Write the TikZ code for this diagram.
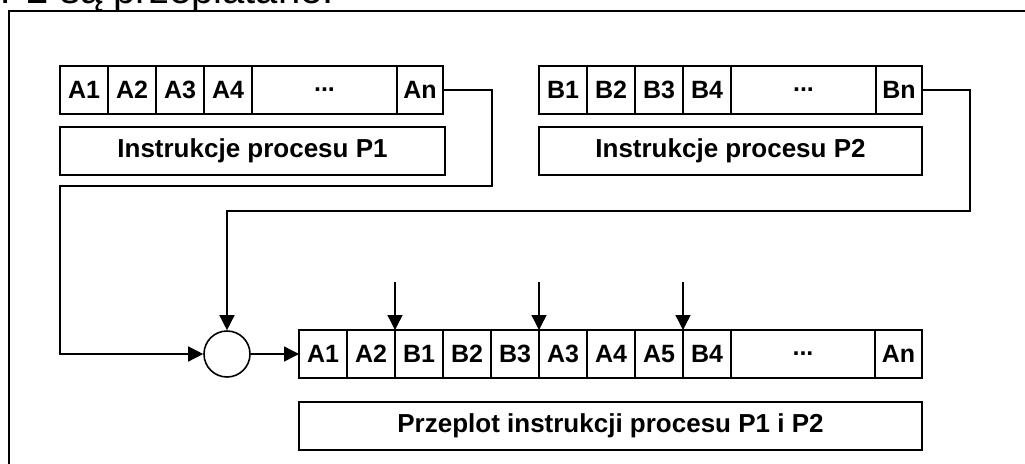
\documentclass[tikz,border=0pt]{standalone}
\usepackage{fontspec}
\setmainfont{Liberation Sans}
\usetikzlibrary{positioning,arrows.meta}

\tikzset{
  cell/.style={draw,line width=1.7pt,minimum width=48pt,minimum height=48pt,
    inner sep=0pt,outer sep=0pt,font=\fontsize{25}{29}\selectfont\bfseries},
  dotcell/.style={cell,minimum width=145pt},
  caption/.style={draw,line width=1.7pt,minimum height=48pt,inner sep=0pt,
    outer sep=0pt,font=\fontsize{26}{30}\selectfont\bfseries},
  wire/.style={line width=1.4pt},
  feed/.style={wire,-{Triangle[length=15pt,width=15pt]}}
}

\begin{document}
\begin{tikzpicture}[x=1pt,y=-1pt]
\useasboundingbox (0,0) rectangle (1025,463);
\node[anchor=base west,inner sep=0pt,font=\fontsize{40}{48}\selectfont] (intro) at (0,3) {P2 są przeplatane.};
\draw[line width=2.6pt] (9,480) -- (9,11) -- (1040,11);

% instrukcje P1
\node[cell,anchor=north west] (a1) at (60,66) {A1};
\node[cell,right=0pt of a1] (a2) {A2};
\node[cell,right=0pt of a2] (a3) {A3};
\node[cell,right=0pt of a3] (a4) {A4};
\node[dotcell,right=0pt of a4] (ad) {...};
\node[cell,minimum width=46pt,right=0pt of ad] (an) {An};
\node[caption,anchor=north west,minimum width=385pt] (p1) at (60,127) {Instrukcje procesu P1};

% instrukcje P2
\node[cell,anchor=north west] (b1) at (539,66) {B1};
\node[cell,right=0pt of b1] (b2) {B2};
\node[cell,right=0pt of b2] (b3) {B3};
\node[cell,right=0pt of b3] (b4) {B4};
\node[dotcell,right=0pt of b4] (bd) {...};
\node[cell,minimum width=46pt,right=0pt of bd] (bn) {Bn};
\node[caption,anchor=north west,minimum width=383pt] (p2) at (539,127) {Instrukcje procesu P2};

% przeplot
\node[circle,draw,line width=1.6pt,minimum size=46pt,inner sep=0pt] (mix) at (227,354) {};
\node[cell,anchor=north west] (q1) at (299,330) {A1};
\node[cell,right=0pt of q1] (q2) {A2};
\node[cell,right=0pt of q2] (q3) {B1};
\node[cell,right=0pt of q3] (q4) {B2};
\node[cell,right=0pt of q4] (q5) {B3};
\node[cell,right=0pt of q5] (q6) {A3};
\node[cell,right=0pt of q6] (q7) {A4};
\node[cell,right=0pt of q7] (q8) {A5};
\node[cell,right=0pt of q8] (q9) {B4};
\node[dotcell,minimum width=144pt,right=0pt of q9] (qd) {...};
\node[cell,minimum width=47pt,right=0pt of qd] (qn) {An};
\node[caption,anchor=north west,minimum width=623pt] (p12) at (299,402) {Przeplot instrukcji procesu P1 i P2};

% polaczenia
\coordinate (r1) at (492,186);
\coordinate (l1) at (60,186);
\coordinate (r2) at (970,211);
\draw[feed] (an.east) -| (r1) -- (l1) |- (mix.west);
\draw[feed] (bn.east) -| (r2) -- (mix.north |- r2) -- (mix.north);
\draw[feed] (mix.east) -- (q1.west);

\coordinate[above=48pt of q3.north west] (s1);
\coordinate[above=48pt of q6.north west] (s2);
\coordinate[above=48pt of q9.north west] (s3);
\draw[feed] (s1) -- (q3.north west);
\draw[feed] (s2) -- (q6.north west);
\draw[feed] (s3) -- (q9.north west);
\end{tikzpicture}
\end{document}
